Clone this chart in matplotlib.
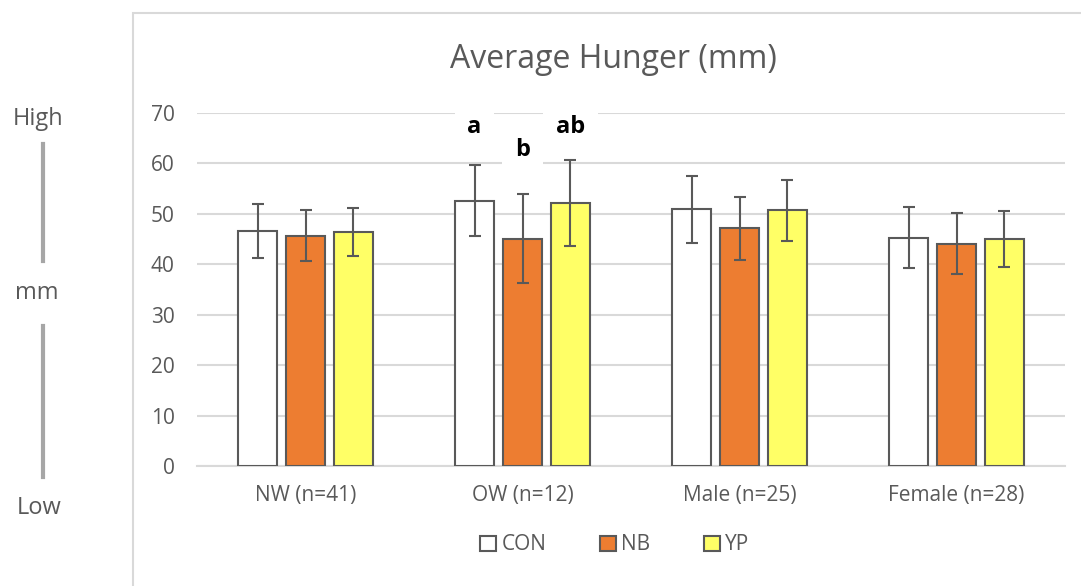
import matplotlib
matplotlib.use('Agg')
from matplotlib import pyplot as plt
from matplotlib.patches import Rectangle, Patch
import numpy as np

plt.rcParams['font.family'] = ['Open Sans', 'DejaVu Sans']

# data
groups = ['NW (n=41)', 'OW (n=12)', 'Male (n=25)', 'Female (n=28)']
series = ['CON', 'NB', 'YP']
con_mean = [46.6, 52.6, 50.9, 45.3]
con_err = [5.3, 7.0, 6.6, 6.0]
nb_mean = [45.7, 45.1, 47.1, 44.1]
nb_err = [5.0, 8.8, 6.2, 6.1]
yp_mean = [46.4, 52.2, 50.7, 45.0]
yp_err = [4.7, 8.5, 6.1, 5.6]
sig_letters = ['a', 'b', 'ab']
sig_heights = [67.3, 62.7, 67.3]

colors = ['#FFFFFF', '#ED7D31', '#FFFF66']
edge = '#595959'
grid_c = '#D9D9D9'
text_c = '#595959'

W, H = 1081, 586
fig = plt.figure(figsize=(W / 100, H / 100), dpi=100)

# chart frame
fig.patches.append(Rectangle((133 / W, -0.2), 1.5, 1.2 - 13 / H, transform=fig.transFigure,
                             fill=False, edgecolor=grid_c, linewidth=1.5, zorder=0))

ax = fig.add_axes([197 / W, 1 - 466 / H, (1065 - 197) / W, (466 - 113) / H])

x = np.arange(len(groups))
step = 0.221
bw = 0.18
means = [con_mean, nb_mean, yp_mean]
errs = [con_err, nb_err, yp_err]
for i, (m, e) in enumerate(zip(means, errs)):
    pos = x + (i - 1) * step
    ax.bar(pos, m, width=bw, color=colors[i], edgecolor=edge, linewidth=1.5, zorder=3)
    ax.errorbar(pos, m, yerr=e, fmt='none', ecolor=edge, elinewidth=1.5,
                capsize=4.5, capthick=1.5, zorder=4)

# significance letters for the OW group
for i, (lab, h) in enumerate(zip(sig_letters, sig_heights)):
    ax.text(x[1] + (i - 1) * step, h, lab, ha='center', va='center', fontsize=17,
            fontweight='bold', color='black', zorder=5,
            bbox=dict(facecolor='white', edgecolor='none', pad=9))

ax.set_xlim(-0.5, 3.5)
ax.set_ylim(0, 70)
ax.set_yticks(range(0, 71, 10))
ax.set_xticks(x)
ax.set_xticklabels(groups)
ax.yaxis.grid(True, color=grid_c, linewidth=1.5, zorder=0)
ax.set_axisbelow(True)
for s in ['top', 'right', 'left']:
    ax.spines[s].set_visible(False)
ax.spines['bottom'].set_color(grid_c)
ax.spines['bottom'].set_linewidth(1.5)
ax.tick_params(axis='y', length=0, pad=16, labelsize=15, labelcolor=text_c)
ax.tick_params(axis='x', length=0, pad=14, labelsize=15, labelcolor=text_c)

fig.text(613 / W, 1 - 60 / H, 'Average Hunger (mm)', ha='center', va='center',
         fontsize=23, color=text_c)

handles = [Patch(facecolor=c, edgecolor=edge, linewidth=1.5) for c in colors]
fig.legend(handles, series, loc='center', bbox_to_anchor=(615 / W, 1 - 545 / H), ncol=3,
           frameon=False, handlelength=0.75, handleheight=0.75, handletextpad=0.25,
           columnspacing=2.6, fontsize=15, labelcolor=text_c)

# High / mm / Low scale on the left
fig.text(38 / W, 1 - 119 / H, 'High', ha='center', va='center', fontsize=17, color=text_c)
fig.text(37 / W, 1 - 293 / H, 'mm', ha='center', va='center', fontsize=17, color=text_c)
fig.text(39 / W, 1 - 508 / H, 'Low', ha='center', va='center', fontsize=17, color=text_c)
fig.add_artist(plt.Line2D([43 / W, 43 / W], [1 - 144 / H, 1 - 261 / H], color='#A6A6A6', linewidth=3))
fig.add_artist(plt.Line2D([43 / W, 43 / W], [1 - 326 / H, 1 - 477 / H], color='#A6A6A6', linewidth=3))

fig.savefig('out.png', dpi=100)
